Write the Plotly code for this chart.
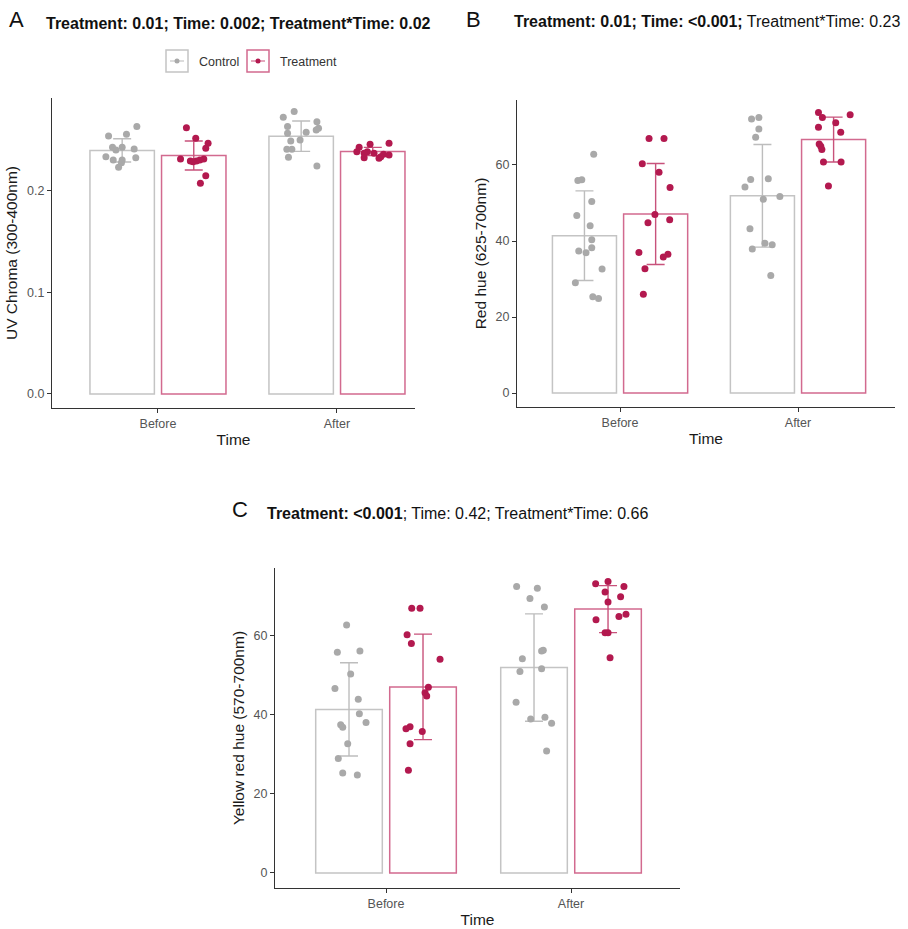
import plotly.graph_objects as go

W, H = 908, 929

# ---------------- data ----------------
times = ["Before", "After"]

# A: UV chroma (300-400nm)
uv_ctrl_mean = [0.240, 0.254]
uv_ctrl_sd = [0.0115, 0.0150]
uv_trt_mean = [0.235, 0.239]
uv_trt_sd = [0.0143, 0.0040]

uv_ctrl_before = [0.2634, 0.2558, 0.2542, 0.2430, 0.2430, 0.2414, 0.2404, 0.2338, 0.2328, 0.2305, 0.2305, 0.2279, 0.2233]
uv_ctrl_before_jit = [0.082, 0.024, -0.076, -0.054, 0.0, 0.067, -0.035, -0.091, 0.076, -0.05, 0.0, -0.004, -0.02]
uv_trt_before = [0.2624, 0.2519, 0.2470, 0.2420, 0.2315, 0.2315, 0.2305, 0.2296, 0.2296, 0.2289, 0.2151, 0.2076]
uv_trt_before_jit = [-0.041, 0.011, 0.08, 0.067, -0.074, 0.056, 0.034, -0.019, 0.015, -0.004, 0.067, 0.037]
uv_ctrl_after = [0.2782, 0.2726, 0.2683, 0.2634, 0.2617, 0.2601, 0.2578, 0.2568, 0.2502, 0.2493, 0.2411, 0.2411, 0.2332, 0.2246]
uv_ctrl_after_jit = [-0.039, -0.10, 0.088, -0.076, 0.097, 0.084, 0.028, -0.076, -0.006, -0.058, -0.08, -0.052, -0.071, 0.088]
uv_trt_after = [0.2470, 0.2460, 0.2430, 0.2387, 0.2387, 0.2371, 0.2371, 0.2361, 0.2355, 0.2338, 0.2328, 0.2322]
uv_trt_after_jit = [0.091, -0.015, -0.076, -0.089, -0.03, -0.048, 0.007, 0.06, 0.091, 0.045, -0.048, 0.035]

# B: Red hue (625-700nm)
red_ctrl_mean = [41.4, 51.9]
red_ctrl_sd = [11.8, 13.5]
red_trt_mean = [47.1, 66.7]
red_trt_sd = [13.3, 5.9]

red_ctrl_before = [62.8, 56.1, 55.9, 50.4, 46.7, 44.0, 40.3, 38.2, 37.4, 36.9, 32.6, 29.0, 25.3, 24.9]
red_ctrl_before_jit = [0.052, -0.015, -0.037, 0.041, -0.043, 0.032, 0.041, 0.041, -0.032, 0.009, 0.099, -0.051, 0.047, 0.079]
red_trt_before = [67.0, 67.0, 60.3, 58.1, 54.1, 47.0, 45.6, 44.8, 37.0, 36.5, 35.8, 32.7, 26.0]
red_trt_before_jit = [-0.037, 0.047, -0.075, 0.019, 0.081, -0.004, 0.079, -0.043, -0.094, 0.069, 0.043, -0.06, -0.069]
red_ctrl_after = [72.5, 72.1, 69.5, 67.3, 56.4, 56.2, 54.2, 51.7, 51.0, 43.2, 39.4, 39.0, 37.9, 30.9]
red_ctrl_after_jit = [-0.02, -0.061, -0.02, -0.038, 0.033, -0.066, -0.098, 0.098, 0.005, -0.07, 0.014, 0.055, -0.057, 0.047]
red_trt_after = [73.8, 73.2, 72.5, 71.1, 69.9, 68.6, 65.5, 64.9, 64.1, 60.8, 60.8, 54.5]
red_trt_after_jit = [-0.085, 0.093, -0.063, 0.012, -0.085, 0.04, -0.081, -0.072, -0.066, -0.057, 0.042, -0.029]

# C: Yellow red hue (570-700nm)
yel_ctrl_mean = [41.4, 52.0]
yel_ctrl_sd = [11.8, 13.6]
yel_trt_mean = [47.1, 66.8]
yel_trt_sd = [13.35, 5.95]

yel_ctrl_before = [62.8, 55.9, 56.2, 50.4, 46.7, 44.0, 40.3, 38.1, 37.5, 36.9, 32.7, 29.0, 25.3, 24.8]
yel_ctrl_before_jit = [-0.013, -0.063, 0.059, 0.009, -0.076, 0.05, 0.056, 0.092, -0.045, -0.034, -0.007, -0.058, -0.034, 0.045]
yel_trt_before = [67.0, 67.0, 60.3, 58.1, 54.1, 47.0, 45.6, 44.8, 37.0, 36.5, 35.8, 32.7, 26.0]
yel_trt_before_jit = [-0.061, -0.016, -0.086, -0.063, 0.092, 0.029, 0.011, 0.02, -0.07, -0.092, -0.004, -0.07, -0.079]
yel_ctrl_after = [72.5, 72.1, 69.5, 67.3, 56.4, 56.2, 54.2, 51.7, 51.0, 43.2, 39.4, 39.0, 37.9, 30.9]
yel_ctrl_after_jit = [-0.094, 0.018, -0.022, 0.056, 0.05, 0.041, -0.063, 0.041, -0.076, -0.097, 0.059, -0.018, 0.095, 0.068]
yel_trt_after = [73.8, 73.2, 72.5, 71.1, 69.9, 68.6, 65.5, 64.9, 64.1, 60.8, 60.8, 54.5]
yel_trt_after_jit = [0.0, -0.067, 0.086, -0.016, 0.068, 0.0, 0.097, 0.059, -0.065, -0.016, 0.0, 0.011]

# ---------------- styling ----------------
FONT = "Liberation Sans, Arial, sans-serif"
CTRL_BAR = "#c4c4c4"
TRT_BAR = "#d26a8f"
CTRL_ERR = "#bdbdbd"
TRT_ERR = "#c8527b"
CTRL_PT = "#a9a9a9"
TRT_PT = "#b3194f"
DODGE = 0.2
BAR_W = 0.36


def px(x):
    return x / W


def py(y):
    return 1 - y / H


fig = go.Figure()


def add_panel(ax, ctrl_mean, ctrl_sd, trt_mean, trt_sd, pts):
    xa = "x" + ax
    ya = "y" + ax
    specs = [
        (ctrl_mean, ctrl_sd, -DODGE, CTRL_BAR, CTRL_ERR),
        (trt_mean, trt_sd, DODGE, TRT_BAR, TRT_ERR),
    ]
    for mean, sd, off, bcol, ecol in specs:
        fig.add_trace(go.Bar(
            x=[i + off for i in range(len(times))], y=mean, width=BAR_W,
            marker=dict(color="rgba(255,255,255,0)", line=dict(color=bcol, width=1.5)),
            error_y=dict(type="data", array=sd, visible=True, color=ecol,
                         thickness=1.4, width=9),
            xaxis=xa, yaxis=ya, showlegend=False, hoverinfo="skip",
        ))
    for i_time, off, vals, jit, col in pts:
        fig.add_trace(go.Scatter(
            x=[i_time + off + j for j in jit], y=vals, mode="markers",
            marker=dict(color=col, size=7, line=dict(width=0)),
            xaxis=xa, yaxis=ya, showlegend=False, hoverinfo="skip",
        ))


add_panel("", uv_ctrl_mean, uv_ctrl_sd, uv_trt_mean, uv_trt_sd, [
    (0, -DODGE, uv_ctrl_before, uv_ctrl_before_jit, CTRL_PT),
    (0, DODGE, uv_trt_before, uv_trt_before_jit, TRT_PT),
    (1, -DODGE, uv_ctrl_after, uv_ctrl_after_jit, CTRL_PT),
    (1, DODGE, uv_trt_after, uv_trt_after_jit, TRT_PT),
])
add_panel("2", red_ctrl_mean, red_ctrl_sd, red_trt_mean, red_trt_sd, [
    (0, -DODGE, red_ctrl_before, red_ctrl_before_jit, CTRL_PT),
    (0, DODGE, red_trt_before, red_trt_before_jit, TRT_PT),
    (1, -DODGE, red_ctrl_after, red_ctrl_after_jit, CTRL_PT),
    (1, DODGE, red_trt_after, red_trt_after_jit, TRT_PT),
])
add_panel("3", yel_ctrl_mean, yel_ctrl_sd, yel_trt_mean, yel_trt_sd, [
    (0, -DODGE, yel_ctrl_before, yel_ctrl_before_jit, CTRL_PT),
    (0, DODGE, yel_trt_before, yel_trt_before_jit, TRT_PT),
    (1, -DODGE, yel_ctrl_after, yel_ctrl_after_jit, CTRL_PT),
    (1, DODGE, yel_trt_after, yel_trt_after_jit, TRT_PT),
])

axis_common = dict(
    showline=True, linecolor="#333333", linewidth=1.3, mirror=False,
    ticks="outside", ticklen=4, tickwidth=1, tickcolor="#333333",
    tickfont=dict(family=FONT, size=12.5, color="#555555"),
    showgrid=False, zeroline=False, fixedrange=True,
)
xtitle = dict(text="Time", font=dict(family=FONT, size=15.5, color="#1a1a1a"), standoff=3)


def ytitle(t):
    return dict(text=t, font=dict(family=FONT, size=15.5, color="#1a1a1a"), standoff=5)


fig.update_layout(
    width=W, height=H, margin=dict(l=0, r=0, t=0, b=0),
    paper_bgcolor="white", plot_bgcolor="white",
    barmode="overlay", showlegend=False,
    font=dict(family=FONT),
    xaxis=dict(axis_common, domain=[px(52), px(415)], range=[-0.592, 1.436],
               tickvals=[0, 1], ticktext=times, title=xtitle, anchor="y"),
    yaxis=dict(axis_common, domain=[py(408), py(98)], range=[-0.0138, 0.2916],
               tickvals=[0, 0.1, 0.2], ticktext=["0.0", "0.1", "0.2"],
               title=ytitle("UV Chroma (300-400nm)"), anchor="x"),
    xaxis2=dict(axis_common, domain=[px(517), px(895)], range=[-0.579, 1.545],
                tickvals=[0, 1], ticktext=times, title=xtitle, anchor="y2"),
    yaxis2=dict(axis_common, domain=[py(407), py(100)], range=[-3.68, 77.1],
                tickvals=[0, 20, 40, 60], title=ytitle("Red hue (625-700nm)"), anchor="x2"),
    xaxis3=dict(axis_common, domain=[px(275), px(680)], range=[-0.6, 1.589],
                tickvals=[0, 1], ticktext=times, title=xtitle, anchor="y3"),
    yaxis3=dict(axis_common, domain=[py(888), py(568)], range=[-3.8, 77.2],
                tickvals=[0, 20, 40, 60], title=ytitle("Yellow red hue (570-700nm)"), anchor="x3"),
)

# panel letters and model summaries
ann = []


def text(x, y, t, size, color="#111111", anchor="left"):
    ann.append(dict(x=px(x), y=py(y), xref="paper", yref="paper", text=t,
                    showarrow=False, xanchor=anchor, yanchor="middle",
                    font=dict(family=FONT, size=size, color=color)))


text(7, 19, "A", 22)
text(44, 23, "<b>Treatment: 0.01; Time: 0.002; Treatment*Time: 0.02</b>", 16)
text(464, 19, "B", 22)
text(512, 21, "<b>Treatment: 0.01; Time: &lt;0.001;</b> Treatment*Time: 0.23", 16)
text(230, 509, "C", 22)
text(265, 513, "<b>Treatment: &lt;0.001</b>; Time: 0.42; Treatment*Time: 0.66", 16)

# legend keys
text(197, 62, "Control", 12.5, "#333333")
text(278, 62, "Treatment", 12.5, "#333333")
shapes = []
for x0, bcol, dcol in [(166, CTRL_BAR, CTRL_PT), (247, TRT_BAR, TRT_PT)]:
    shapes.append(dict(type="rect", xref="paper", yref="paper",
                       x0=px(x0), x1=px(x0 + 22), y0=py(72), y1=py(50),
                       line=dict(color=bcol, width=1.5), fillcolor="white"))
    shapes.append(dict(type="line", xref="paper", yref="paper",
                       x0=px(x0 + 4), x1=px(x0 + 18), y0=py(61), y1=py(61),
                       line=dict(color=bcol, width=1.2)))
    shapes.append(dict(type="circle", xref="paper", yref="paper",
                       x0=px(x0 + 8.5), x1=px(x0 + 13.5), y0=py(63.5), y1=py(58.5),
                       line=dict(width=0), fillcolor=dcol))

fig.update_layout(annotations=ann, shapes=shapes)

fig.write_html("out.html")
